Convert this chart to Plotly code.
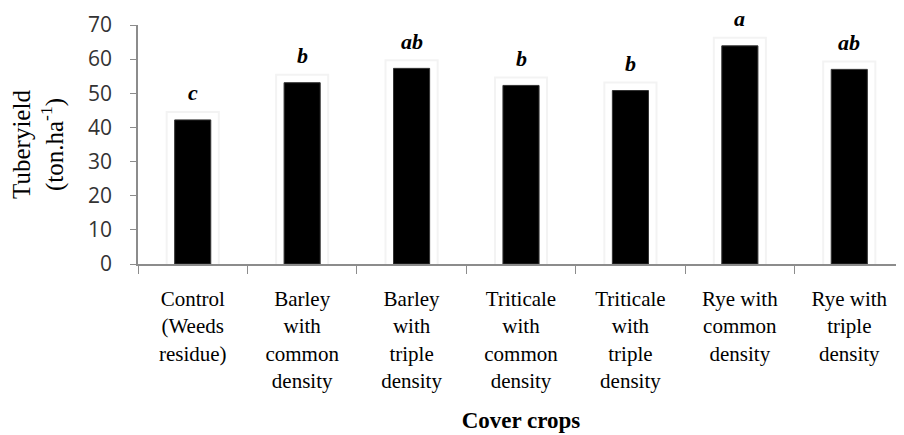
import plotly.graph_objects as go

# data
treatments = [
    "Control<br>(Weeds<br>residue)",
    "Barley<br>with<br>common<br>density",
    "Barley<br>with<br>triple<br>density",
    "Triticale<br>with<br>common<br>density",
    "Triticale<br>with<br>triple<br>density",
    "Rye with<br>common<br>density",
    "Rye with<br>triple<br>density",
]
tuber_yield = [42.2, 53.1, 57.3, 52.3, 50.8, 63.9, 57.0]
letters = ["c", "b", "ab", "b", "b", "a", "ab"]

serif = "Times New Roman, Liberation Serif, serif"
sans = "Open Sans"

fig = go.Figure()

# soft halo behind bars (faint grey edge, then white)
fig.add_trace(go.Bar(x=treatments, y=tuber_yield, width=0.33,
                     marker=dict(color="white", line=dict(color="#f3f3f3", width=18)),
                     hoverinfo="skip", showlegend=False))
fig.add_trace(go.Bar(x=treatments, y=tuber_yield, width=0.33,
                     marker=dict(color="white", line=dict(color="white", width=14)),
                     hoverinfo="skip", showlegend=False))
# main bars
fig.add_trace(go.Bar(x=treatments, y=tuber_yield, width=0.33,
                     marker=dict(color="black", line=dict(color="#333", width=1)),
                     showlegend=False))

for t, v, l in zip(treatments, tuber_yield, letters):
    fig.add_annotation(x=t, y=v, text="<b><i>" + l + "</i></b>", showarrow=False,
                       yshift=27, font=dict(family=serif, size=22, color="black"))

# page adds an 8px body margin, so the figure is shrunk to fit the window
fig.update_layout(
    barmode="overlay",
    width=896, height=427,
    margin=dict(l=130, r=0, t=17, b=171),
    plot_bgcolor="white", paper_bgcolor="white",
    font=dict(family=serif, color="black"),
)
fig.update_xaxes(
    automargin=False,
    showline=True, linecolor="#8c8c8c", linewidth=1.5,
    ticks="outside", tickson="boundaries", ticklen=8, tickcolor="#8c8c8c",
    tickfont=dict(family=serif, size=21, color="black"),
    ticklabelstandoff=15,
    title=dict(text="<b>Cover crops</b>", font=dict(family=serif, size=23, color="black"), standoff=20),
    showgrid=False,
)
fig.update_yaxes(
    automargin=False,
    range=[0, 70], dtick=10,
    showline=True, linecolor="#8c8c8c", linewidth=1.5,
    ticks="outside", ticklen=6, tickcolor="#8c8c8c",
    tickfont=dict(family=sans, size=21, color="#333"),
    ticklabelstandoff=14,
    title=dict(text="Tuberyield<br>(ton.ha<sup>-1</sup>)", font=dict(family=serif, size=25, color="black"), standoff=18),
    showgrid=False, zeroline=False,
)

fig.write_html("out.html")
